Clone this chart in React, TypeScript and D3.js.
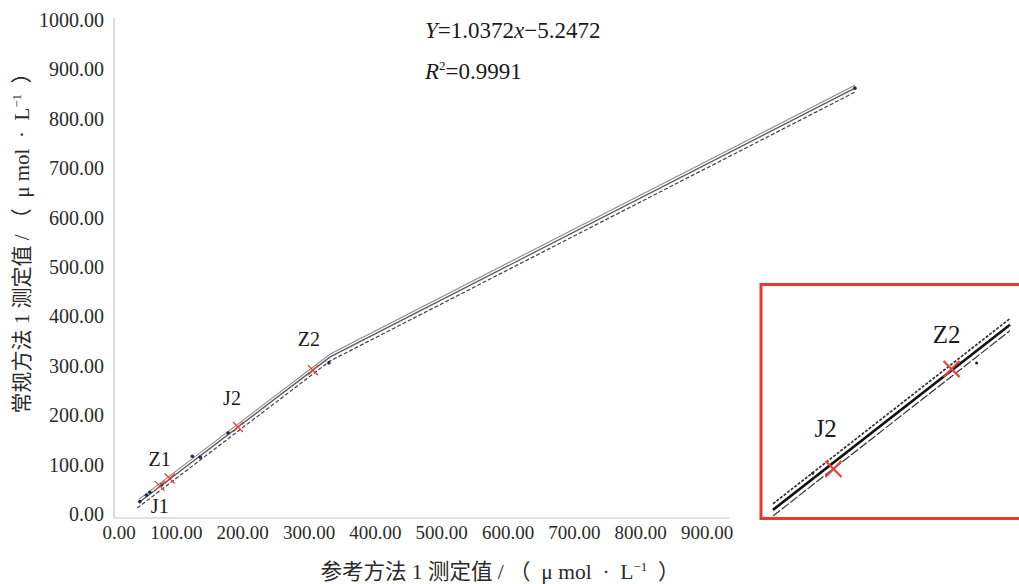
import React from "react";
import * as d3 from "d3";

// tick values
const xTicks = [0, 100, 200, 300, 400, 500, 600, 700, 800, 900];
const yTicks = [0, 100, 200, 300, 400, 500, 600, 700, 800, 900, 1000];

// main chart: fitted line and its two limit lines
const fitLine = [
  { x: 44, y: 24 },
  { x: 332, y: 318 },
  { x: 1123, y: 862 },
];
const upperLine = [
  { x: 44, y: 30 },
  { x: 332, y: 324 },
  { x: 1123, y: 868 },
];
const lowerLine = [
  { x: 41, y: 12 },
  { x: 332, y: 310 },
  { x: 1123, y: 854 },
];

// scatter points (small dark dots)
const points = [
  { x: 45, y: 25 },
  { x: 55, y: 38 },
  { x: 60, y: 44 },
  { x: 78, y: 59 },
  { x: 124, y: 117 },
  { x: 136, y: 115 },
  { x: 178, y: 164 },
  { x: 330, y: 306 },
  { x: 1123, y: 862 },
];

// labelled samples, red crosses
const marked = [
  { name: "J1", x: 75, y: 57, dx: 0, dy: 27 },
  { name: "Z1", x: 90, y: 72, dx: -10, dy: -12 },
  { name: "J2", x: 193, y: 176, dx: -6, dy: -22 },
  { name: "Z2", x: 306, y: 291, dx: -4, dy: -24 },
];

// inset (magnified J2 - Z2 part)
const insetFit = [
  { x: 135, y: 129 },
  { x: 362, y: 342 },
];
const insetUpper = [
  { x: 135, y: 136 },
  { x: 362, y: 349 },
];
const insetLower = [
  { x: 135, y: 122 },
  { x: 362, y: 335 },
];
const insetPoints = [
  { x: 173, y: 171 },
  { x: 330, y: 298 },
];
const insetMarked = [
  { name: "J2", x: 193, y: 176, dx: -8, dy: -32 },
  { name: "Z2", x: 306, y: 291, dx: -5, dy: -26 },
];

const W = 1019;
const H = 584;
const serif = "'Liberation Serif', 'Times New Roman', 'Noto Sans CJK SC', serif";

const x = d3.scaleLinear().domain([0, 900]).range([110, 707]);
const y = d3.scaleLinear().domain([0, 1000]).range([514, 20]);

const ix = d3.scaleLinear().domain([135, 362]).range([773, 1010]);
const iy = d3.scaleLinear().domain([176, 291]).range([469, 369]);

type P = { x: number; y: number };

const Cross = ({ cx, cy, r, w }: { cx: number; cy: number; r: number; w: number }) => (
  <g stroke="#e8413c" strokeWidth={w}>
    <line x1={cx - r} y1={cy - r} x2={cx + r} y2={cy + r} />
    <line x1={cx - r} y1={cy + r} x2={cx + r} y2={cy - r} />
  </g>
);

const Unit = () => (
  <>
    {" / （\u2002μ mol\u2002·\u2002L"}
    <tspan dy={-8} fontSize={13}>
      −1
    </tspan>
    <tspan dy={8}>{"\u2002）"}</tspan>
  </>
);

export default function App() {
  const line = d3
    .line<P>()
    .x((d) => x(d.x))
    .y((d) => y(d.y));
  const iline = d3
    .line<P>()
    .x((d) => ix(d.x))
    .y((d) => iy(d.y));

  const plotLeft = 114;
  const plotRight = 729;
  const plotBottom = 518;

  return (
    <svg
      width={W}
      height={H}
      style={{ position: "absolute", left: 0, top: 0, background: "#fff" }}
    >
      {/* axes */}
      <line x1={plotLeft} x2={plotLeft} y1={18} y2={plotBottom} stroke="#c4c4c4" strokeWidth={1.2} />
      <line x1={plotLeft} x2={plotRight} y1={plotBottom} y2={plotBottom} stroke="#c4c4c4" strokeWidth={1.2} />

      {yTicks.map((t) => (
        <text
          key={"y" + t}
          x={104}
          y={y(t)}
          dy="0.35em"
          textAnchor="end"
          fontFamily={serif}
          fontSize={20}
          fill="#2a2a2a"
        >
          {t.toFixed(2)}
        </text>
      ))}
      {xTicks.map((t) => (
        <text
          key={"x" + t}
          x={t === 0 ? x(t) + 9 : x(t)}
          y={539}
          textAnchor="middle"
          fontFamily={serif}
          fontSize={19}
          fill="#2a2a2a"
        >
          {t.toFixed(2)}
        </text>
      ))}

      {/* axis titles */}
      <text
        transform="translate(29,238) rotate(-90)"
        textAnchor="middle"
        fontFamily={serif}
        fontSize={21}
        fill="#2a2a2a"
      >
        常规方法 1 测定值
        <Unit />
      </text>
      <text x={500} y={579} textAnchor="middle" fontFamily={serif} fontSize={21.5} fill="#2a2a2a">
        参考方法 1 测定值
        <Unit />
      </text>

      {/* regression text */}
      <text x={425} y={38} fontFamily={serif} fontSize={23} fill="#1a1a1a">
        <tspan fontStyle="italic">Y</tspan>=1.0372<tspan fontStyle="italic">x</tspan>−5.2472
      </text>
      <text x={425} y={79} fontFamily={serif} fontSize={23} fill="#1a1a1a">
        <tspan fontStyle="italic">R</tspan>
        <tspan dy={-9} fontSize={13}>2</tspan>
        <tspan dy={9}>=0.9991</tspan>
      </text>

      {/* lines */}
      <path d={line(upperLine) ?? ""} fill="none" stroke="#8a8a8a" strokeWidth={1.1} />
      <path d={line(fitLine) ?? ""} fill="none" stroke="#5a5a5a" strokeWidth={1.3} />
      <path
        d={line(lowerLine) ?? ""}
        fill="none"
        stroke="#3b3f52"
        strokeWidth={1.2}
        strokeDasharray="4 2"
      />

      {points.map((p, i) => (
        <circle key={"p" + i} cx={x(p.x)} cy={y(p.y)} r={1.8} fill="#1f2a44" />
      ))}

      {marked.map((m) => (
        <g key={m.name}>
          <Cross cx={x(m.x)} cy={y(m.y)} r={5} w={1.3} />
          <text
            x={x(m.x) + m.dx}
            y={y(m.y) + m.dy}
            textAnchor="middle"
            fontFamily={serif}
            fontSize={20}
            fill="#1a1a1a"
          >
            {m.name}
          </text>
        </g>
      ))}

      {/* inset */}
      <rect x={761} y={284.5} width={270} height={234} fill="#fff" stroke="#e53935" strokeWidth={3} />
      <path
        d={iline(insetUpper) ?? ""}
        fill="none"
        stroke="#333"
        strokeWidth={1.7}
        strokeDasharray="3 1.5"
      />
      <path d={iline(insetFit) ?? ""} fill="none" stroke="#111" strokeWidth={2.6} />
      <path
        d={iline(insetLower) ?? ""}
        fill="none"
        stroke="#333"
        strokeWidth={1.2}
        strokeDasharray="9 2"
      />
      {insetPoints.map((p, i) => (
        <circle key={"ip" + i} cx={ix(p.x)} cy={iy(p.y)} r={1.5} fill="#222" />
      ))}
      {insetMarked.map((m) => (
        <g key={"i" + m.name}>
          <Cross cx={ix(m.x)} cy={iy(m.y)} r={8} w={2.2} />
          <text
            x={ix(m.x) + m.dx}
            y={iy(m.y) + m.dy}
            textAnchor="middle"
            fontFamily={serif}
            fontSize={25}
            fill="#1a1a1a"
          >
            {m.name}
          </text>
        </g>
      ))}
    </svg>
  );
}
